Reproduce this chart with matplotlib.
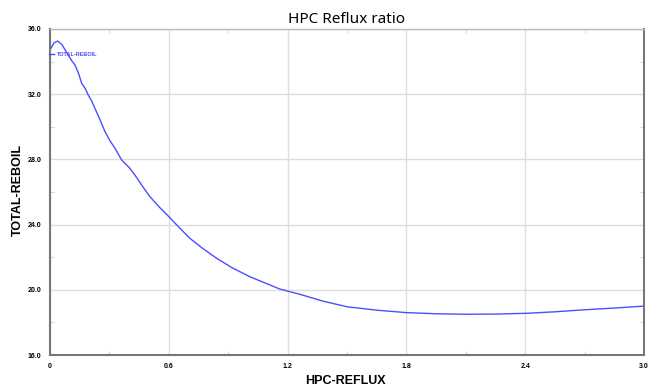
import matplotlib
matplotlib.use("Agg")
import matplotlib.pyplot as plt
from matplotlib.ticker import MultipleLocator, FixedLocator

# values
reflux = [0.0, 0.02, 0.039, 0.06, 0.092, 0.11, 0.126, 0.145, 0.16, 0.178, 0.193, 0.21,
          0.227, 0.25, 0.278, 0.30, 0.33, 0.362, 0.40, 0.429, 0.47, 0.505, 0.55, 0.601,
          0.65, 0.707, 0.77, 0.842, 0.92, 1.01, 1.08, 1.16, 1.263, 1.38, 1.5, 1.65,
          1.8, 1.95, 2.09, 2.25, 2.41, 2.55, 2.68, 2.85, 3.0]
reboil = [34.71, 35.15, 35.26, 35.05, 34.4, 34.05, 33.8, 33.25, 32.67, 32.35, 31.95, 31.6,
          31.13, 30.5, 29.7, 29.2, 28.65, 27.96, 27.5, 27.04, 26.3, 25.71, 25.1, 24.48,
          23.85, 23.15, 22.55, 21.93, 21.35, 20.8, 20.45, 20.05, 19.72, 19.3, 18.96, 18.75,
          18.6, 18.53, 18.5, 18.51, 18.56, 18.65, 18.76, 18.88, 19.0]

x_ticks = [0, 0.6, 1.2, 1.8, 2.4, 3.0]
x_labels = ["0", "0.6", "1.2", "1.8", "2.4", "3.0"]
y_ticks = [16, 20, 24, 28, 32, 36]
y_labels = ["16.0", "20.0", "24.0", "28.0", "32.0", "36.0"]

fig = plt.figure(figsize=(6.51, 3.9), dpi=100)
ax = fig.add_axes([50 / 651, 1 - 355 / 390, 594 / 651, 326 / 390])

ax.plot(reflux, reboil, color="#4d4dff", lw=1.0, label="TOTAL-REBOIL")

ax.set_xlim(0, 3.0)
ax.set_ylim(16, 36)
ax.xaxis.set_major_locator(FixedLocator(x_ticks))
ax.yaxis.set_major_locator(FixedLocator(y_ticks))
ax.set_xticklabels(x_labels)
ax.set_yticklabels(y_labels)
ax.xaxis.set_minor_locator(MultipleLocator(0.3))
ax.yaxis.set_minor_locator(MultipleLocator(2))

ax.grid(True, which="major", color="#dddddd", lw=1.0)
ax.set_axisbelow(True)
ax.tick_params(which="major", length=0, pad=6, labelsize=5)
ax.tick_params(which="minor", direction="in", length=3, color="#cccccc",
               top=True, right=True)
for lab in ax.get_xticklabels() + ax.get_yticklabels():
    lab.set_fontweight("bold")
    lab.set_family("Liberation Sans")

for side in ["left", "bottom", "right"]:
    ax.spines[side].set_color("#777777")
    ax.spines[side].set_linewidth(1.5)
ax.spines["top"].set_color("#bbbbbb")
ax.spines["top"].set_linewidth(1.0)

ax.set_title("HPC Reflux ratio", fontsize=11, family="Noto Sans", pad=4)
fig.text(345 / 651, 1 - 381 / 390, "HPC-REFLUX", fontsize=9, fontweight="bold",
         family="Liberation Sans", ha="center", va="center")
fig.text(18 / 651, 1 - 190 / 390, "TOTAL-REBOIL", fontsize=9, fontweight="bold",
         family="Liberation Sans", ha="center", va="center", rotation=90)

leg = ax.legend(loc="upper left", bbox_to_anchor=(-0.005, 0.935), frameon=False,
                handlelength=0.8, handletextpad=0.6, borderaxespad=0,
                prop={"size": 4, "weight": "bold", "family": "Liberation Sans"})
for t in leg.get_texts():
    t.set_color("#4d4dff")

fig.savefig("out.png", dpi=100)
